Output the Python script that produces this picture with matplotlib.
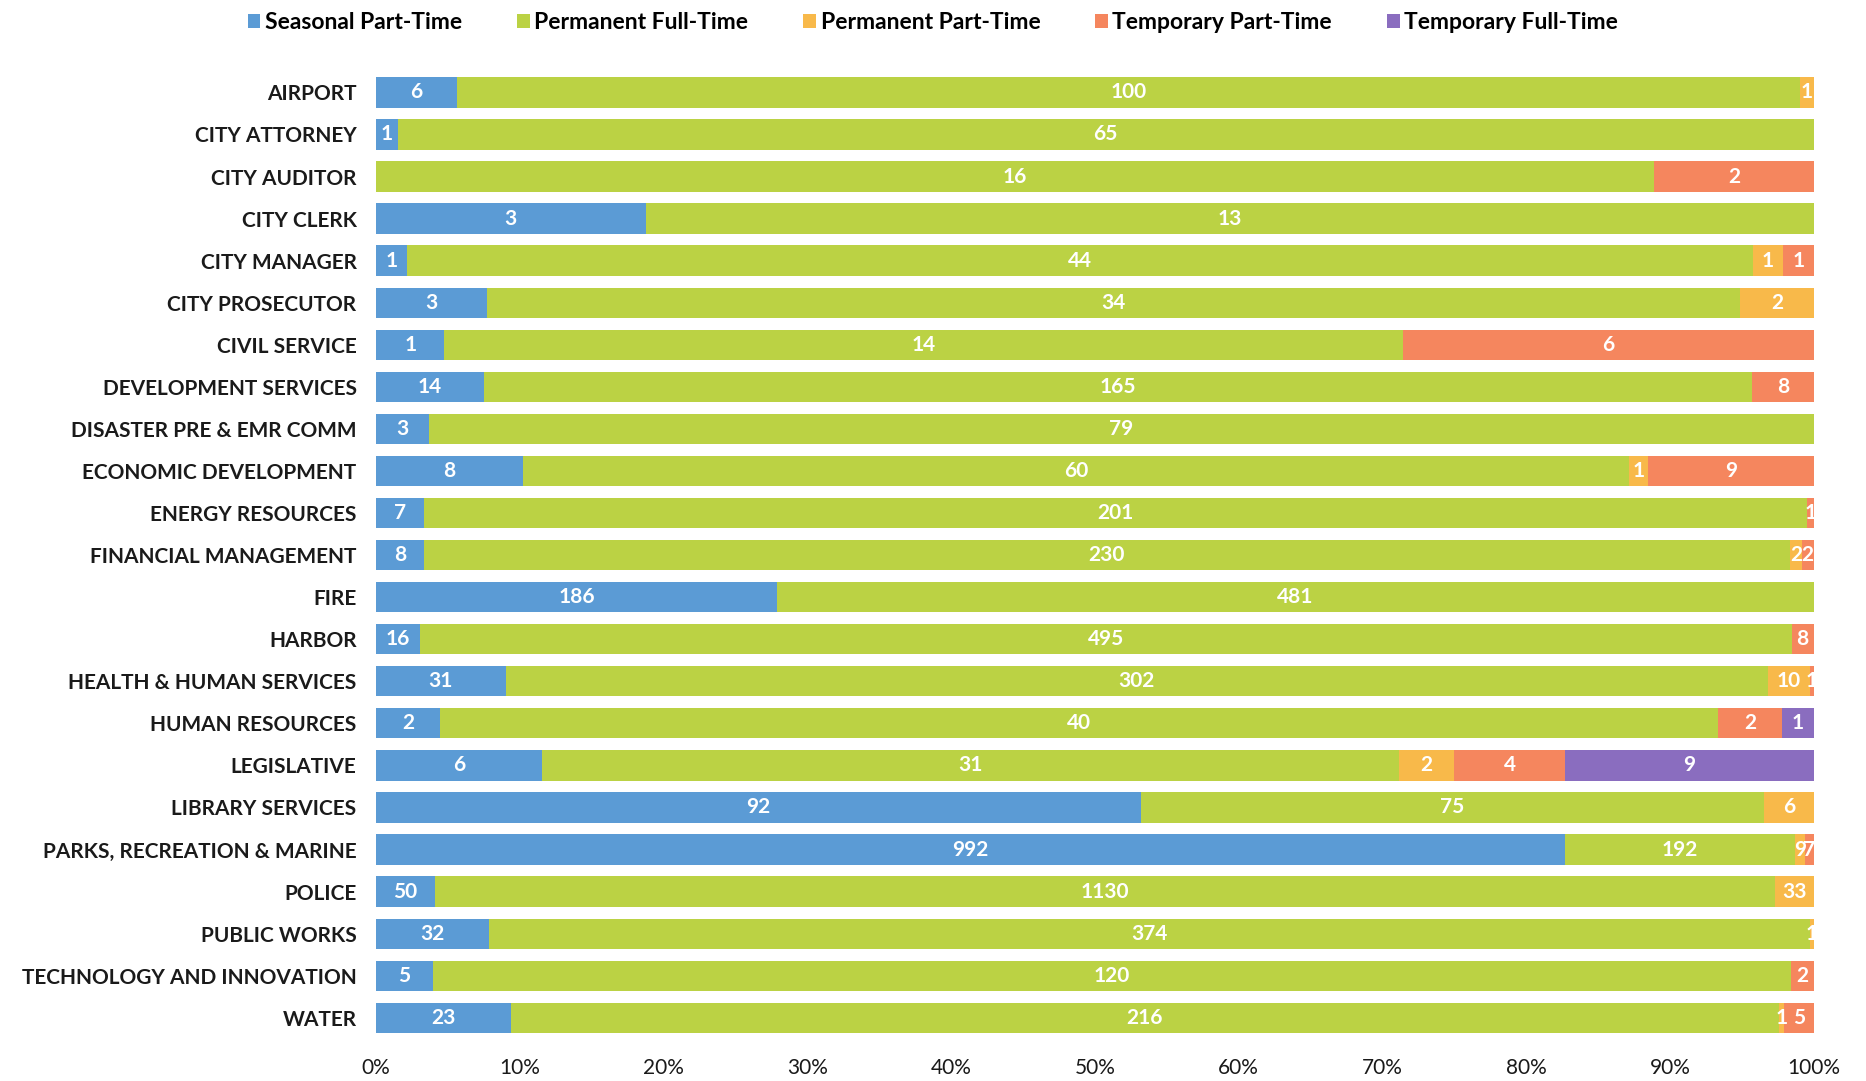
import numpy as np
import matplotlib.pyplot as plt
from matplotlib.ticker import PercentFormatter

plt.rcParams['font.family'] = ['Lato', 'DejaVu Sans']

departments = [
    "AIRPORT", "CITY ATTORNEY", "CITY AUDITOR", "CITY CLERK", "CITY MANAGER",
    "CITY PROSECUTOR", "CIVIL SERVICE", "DEVELOPMENT SERVICES",
    "DISASTER PRE & EMR COMM", "ECONOMIC DEVELOPMENT", "ENERGY RESOURCES",
    "FINANCIAL MANAGEMENT", "FIRE", "HARBOR", "HEALTH & HUMAN SERVICES",
    "HUMAN RESOURCES", "LEGISLATIVE", "LIBRARY SERVICES",
    "PARKS, RECREATION & MARINE", "POLICE", "PUBLIC WORKS",
    "TECHNOLOGY AND INNOVATION", "WATER",
]

series_names = ["Seasonal Part-Time", "Permanent Full-Time", "Permanent Part-Time",
                "Temporary Part-Time", "Temporary Full-Time"]

seasonal_pt = [6, 1, 0, 3, 1, 3, 1, 14, 3, 8, 7, 8, 186, 16, 31, 2, 6, 92, 992, 50, 32, 5, 23]
permanent_ft = [100, 65, 16, 13, 44, 34, 14, 165, 79, 60, 201, 230, 481, 495, 302, 40, 31, 75, 192, 1130, 374, 120, 216]
permanent_pt = [1, 0, 0, 0, 1, 2, 0, 0, 0, 1, 0, 2, 0, 0, 10, 0, 2, 6, 9, 33, 1, 0, 1]
temporary_pt = [0, 0, 2, 0, 1, 0, 6, 8, 0, 9, 1, 2, 0, 8, 1, 2, 4, 0, 7, 0, 0, 2, 5]
temporary_ft = [0, 0, 0, 0, 0, 0, 0, 0, 0, 0, 0, 0, 0, 0, 0, 1, 9, 0, 0, 0, 0, 0, 0]

colors = ["#5b9bd5", "#bbd244", "#f8b94a", "#f5865e", "#8a6dbf"]

counts = np.array([seasonal_pt, permanent_ft, permanent_pt, temporary_pt, temporary_ft], dtype=float)
shares = counts / counts.sum(axis=0)

fig = plt.figure(figsize=(18.66, 10.81), dpi=100)
ax = fig.add_axes([0.2015, 0.039, 0.7705, 0.895])

y = np.arange(len(departments))
left = np.zeros(len(departments))
for i in range(len(series_names)):
    bars = ax.barh(y, shares[i], left=left, height=0.72, color=colors[i],
                   label=series_names[i])
    for j, b in enumerate(bars):
        if counts[i, j] > 0:
            ax.text(left[j] + shares[i, j] / 2, y[j], str(int(counts[i, j])),
                    ha='center', va='center', color='white', fontsize=15,
                    fontweight='bold')
    left += shares[i]

ax.set_ylim(len(departments) - 0.5, -0.5)
ax.set_xlim(0, 1)
ax.set_yticks(y)
ax.set_yticklabels(departments, fontsize=15, fontweight='bold', color='#1a1a1a')
ax.set_xticks(np.linspace(0, 1, 11))
ax.xaxis.set_major_formatter(PercentFormatter(1.0, decimals=0))
ax.tick_params(axis='both', length=0)
ax.tick_params(axis='x', labelsize=15, colors='#1a1a1a', pad=14)
ax.tick_params(axis='y', pad=14)
for s in ax.spines.values():
    s.set_visible(False)

fig.legend(loc='upper center', bbox_to_anchor=(0.5, 1.008), ncol=5, frameon=False,
           prop={'size': 16.5, 'weight': 'bold'}, handlelength=0.55, handleheight=0.55,
           handletextpad=0.2, columnspacing=2.4)

fig.savefig("out.png", dpi=100)
